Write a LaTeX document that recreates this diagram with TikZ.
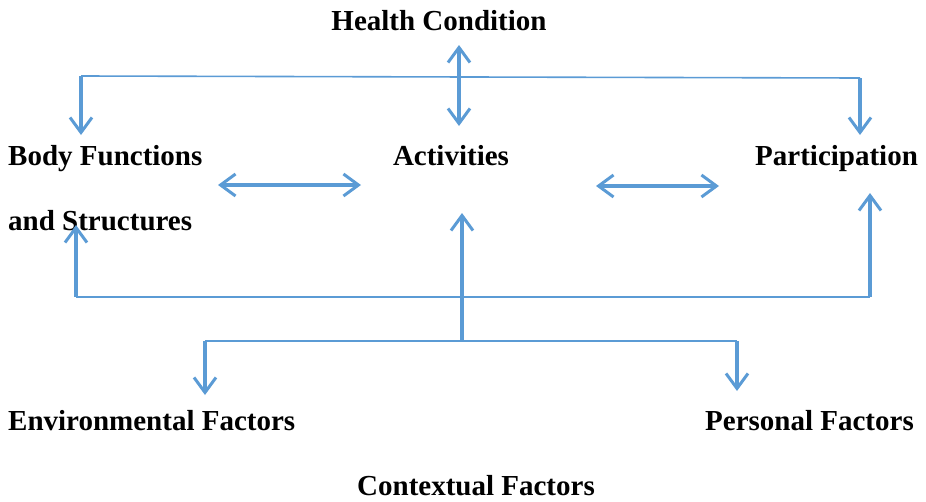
\documentclass[tikz,border=0pt]{standalone}
\usepackage{fontspec}
\setmainfont{Liberation Serif}
\usetikzlibrary{arrows.meta}
\definecolor{lineblue}{HTML}{5B9BD5}
\begin{document}
\begin{tikzpicture}[x=1pt,y=-1pt,
  lbl/.style={font=\fontsize{29}{34}\selectfont\bfseries, inner sep=0pt},
  thinline/.style={draw=lineblue, line width=1.6pt},
  tip/.tip={Straight Barb[length=15pt,width=22pt,line width=3pt]},
  arr/.style={draw=lineblue, line width=3.2pt, -tip},
  darr/.style={draw=lineblue, line width=3.2pt, tip-tip}]
\useasboundingbox (0,0) rectangle (926,501);
% texts
\node[lbl, anchor=base] (hc) at (439,30) {Health Condition};
\node[lbl, anchor=base west] (bf) at (8,165) {Body Functions};
\node[lbl, anchor=base west] (bs) at (8,230) {and Structures};
\node[lbl, anchor=base] (act) at (451,165) {Activities};
\node[lbl, anchor=base west] (par) at (755,165) {Participation};
\node[lbl, anchor=base west] (env) at (8,430) {Environmental Factors};
\node[lbl, anchor=base west] (pers) at (705,430) {Personal Factors};
\node[lbl, anchor=base] (ctx) at (476,495) {Contextual Factors};
% coordinates
\coordinate (hcTop) at (459,45);
\coordinate (hcBot) at (459,126);
\coordinate (tL) at (81,76);
\coordinate (tR) at (860,78);
\coordinate (tLe) at (81,135);
\coordinate (tRe) at (860,135);
\coordinate (bfR) at (218,185);
\coordinate (actL) at (361,185);
\coordinate (actR) at (596,186);
\coordinate (parL) at (719,186);
\coordinate (bL) at (76,297);
\coordinate (bR) at (870,297);
\coordinate (bLe) at (76,225);
\coordinate (bRe) at (870,193);
\coordinate (cB) at (462,340);
\coordinate (cT) at (462,213);
\coordinate (lL) at (205,341);
\coordinate (lR) at (737,341);
\coordinate (lLe) at (205,395);
\coordinate (lRe) at (737,391);
% connectors
\draw[darr] (hcTop) -- (hcBot);
\draw[thinline] (tL) -- (tR);
\draw[arr] (tL) -- (tLe);
\draw[arr] (tR) -- (tRe);
\draw[darr] (bfR) -- (actL);
\draw[darr] (actR) -- (parL);
\draw[thinline] (bL) -- (bR);
\draw[arr] (bL) -- (bLe);
\draw[arr] (bR) -- (bRe);
\draw[arr] (cB) -- (cT);
\draw[thinline] (lL) -- (lR);
\draw[arr] (lL) -- (lLe);
\draw[arr] (lR) -- (lRe);
\end{tikzpicture}
\end{document}
